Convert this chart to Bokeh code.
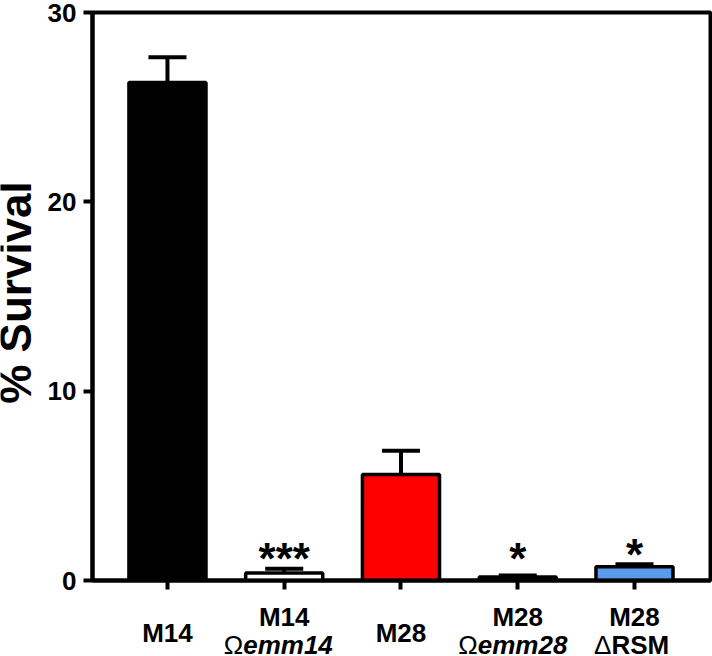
import math
from bokeh.plotting import figure
from bokeh.layouts import column, row
from bokeh.models import Range1d, FixedTicker
from bokeh.core.properties import value
from bokeh.embed import file_html
from bokeh.resources import INLINE

# ---- data ----
strains = ["M14", "M14", "M28", "M28", "M28"]
variant_prefix = ["", "Ω", "", "Ω", "Δ"]
variant_names = ["", "emm14", "", "emm28", "RSM"]
variant_italic = [False, True, False, True, False]
survival = [26.3, 0.40, 5.60, 0.18, 0.72]
sem = [1.34, 0.22, 1.25, 0.08, 0.14]
significance = ["", "***", "", "*", "*"]
bar_colors = ["black", "white", "#FF0000", "white", "#5B9BEB"]
y_ticks = [0, 10, 20, 30]
y_title = "% Survival"

FONT = "Liberation Sans"
xs = list(range(len(strains)))
err_top = [m + s for m, s in zip(survival, sem)]

x_start, x_end = -0.642, 4.651
FRAME_W, FRAME_H = 618, 568
Y_MAX = 30
px_per_y = FRAME_H / Y_MAX
BASE_FIX = 0.42  # text baseline correction (fraction of font size)

common = dict(output_backend="svg", toolbar_location=None,
              background_fill_color="white", border_fill_color="white")

# ---- main chart ----
p = figure(frame_width=FRAME_W, frame_height=FRAME_H,
           min_border_left=45, min_border_right=5,
           min_border_top=12, min_border_bottom=12,
           x_range=Range1d(x_start, x_end), y_range=Range1d(0, Y_MAX),
           **common)
p.grid.visible = False
p.outline_line_color = "black"
p.outline_line_width = 4

for ax in (p.xaxis[0], p.yaxis[0]):
    ax.axis_line_width = 4
    ax.axis_line_color = "black"
    ax.major_tick_line_width = 4
    ax.major_tick_line_color = "black"
    ax.major_tick_in = 0
    ax.major_tick_out = 9
    ax.minor_tick_line_color = None

p.yaxis.ticker = FixedTicker(ticks=y_ticks)
p.yaxis.major_label_text_font = FONT
p.yaxis.major_label_text_font_style = "bold"
p.yaxis.major_label_text_font_size = "26px"
p.yaxis.major_label_text_color = "black"
p.yaxis.major_label_standoff = 7

p.xaxis.ticker = FixedTicker(ticks=xs)
p.xaxis.major_label_text_color = None
p.xaxis.major_label_text_font_size = "0px"
p.xaxis.major_label_standoff = 0

p.vbar(x=xs, top=survival, bottom=0, width=0.66,
       fill_color=bar_colors, line_color="black", line_width=3.5)

p.segment(x0=xs, y0=survival, x1=xs, y1=err_top,
          line_color="black", line_width=4)
cap = 0.163
p.segment(x0=[x - cap for x in xs], y0=err_top,
          x1=[x + cap for x in xs], y1=err_top,
          line_color="black", line_width=4)

STAR_SIZE = 44
star_px = [4, 4, 4, 4, 8]
sx = [x for x, s in zip(xs, significance) if s]
sy = [(px + BASE_FIX * STAR_SIZE) / px_per_y
      for px, s in zip(star_px, significance) if s]
st = [s for s in significance if s]
p.text(x=sx, y=sy, text=st, text_align="center", text_baseline="alphabetic",
       text_font=value(FONT), text_font_size=value(f"{STAR_SIZE}px"),
       text_font_style=value("bold"), text_color="black")

# ---- category label strip (shares the x scale) ----
STRIP_H = 64
q = figure(frame_width=FRAME_W, frame_height=STRIP_H,
           min_border_left=45, min_border_right=5,
           min_border_top=0, min_border_bottom=0,
           x_range=p.x_range, y_range=Range1d(-STRIP_H, 0),
           x_axis_type=None, y_axis_type=None, **common)
q.outline_line_color = None
q.grid.visible = False

LAB = 26
fix = BASE_FIX * LAB
LINE1, LINE2, SINGLE = -35 + fix, -63 + fix, -51 + fix
split = [0, -41, 0, -40, -23]
lab_kw = dict(text_baseline="alphabetic", text_font=value(FONT),
              text_font_size=value(f"{LAB}px"), text_color="black")

single_x = [x for x, n in zip(xs, variant_names) if not n]
single_t = [s for s, n in zip(strains, variant_names) if not n]
q.text(x=single_x, y=[SINGLE] * len(single_x), text=single_t,
       text_align="center", text_font_style=value("bold"), **lab_kw)

two_x = [x for x, n in zip(xs, variant_names) if n]
two_t = [s for s, n in zip(strains, variant_names) if n]
q.text(x=two_x, y=[LINE1] * len(two_x), text=two_t,
       text_align="center", text_font_style=value("bold"), **lab_kw)

pre_t = [v for v in variant_prefix if v]
pre_off = [sp for sp, n in zip(split, variant_names) if n]
q.text(x=two_x, y=[LINE2] * len(two_x), text=pre_t, x_offset=pre_off,
       text_align="right", text_font_style=value("normal"), **lab_kw)

for style, want_italic in (("bold italic", True), ("bold", False)):
    vx = [x for x, n, it in zip(xs, variant_names, variant_italic) if n and it == want_italic]
    vt = [n for n, it in zip(variant_names, variant_italic) if n and it == want_italic]
    vo = [sp for sp, n, it in zip(split, variant_names, variant_italic) if n and it == want_italic]
    if vx:
        q.text(x=vx, y=[LINE2] * len(vx), text=vt, x_offset=vo,
               text_align="left", text_font_style=value(style), **lab_kw)

# ---- y-axis title strip ----
TITLE_W, TITLE_H = 44, 592
TITLE_SIZE = 44
t = figure(frame_width=TITLE_W, frame_height=TITLE_H,
           min_border_left=0, min_border_right=0,
           min_border_top=0, min_border_bottom=0,
           x_range=Range1d(0, TITLE_W), y_range=Range1d(0, TITLE_H),
           x_axis_type=None, y_axis_type=None, **common)
t.outline_line_color = None
t.grid.visible = False
t.text(x=[33 - BASE_FIX * TITLE_SIZE], y=[TITLE_H - 292], text=[y_title],
       angle=math.pi / 2, text_align="center", text_baseline="alphabetic",
       text_font=value(FONT), text_font_size=value(f"{TITLE_SIZE}px"),
       text_font_style=value("bold"), text_color="black")

layout = row(t, column(p, q, spacing=0), spacing=0)
open("out.html", "w").write(file_html(layout, INLINE))
